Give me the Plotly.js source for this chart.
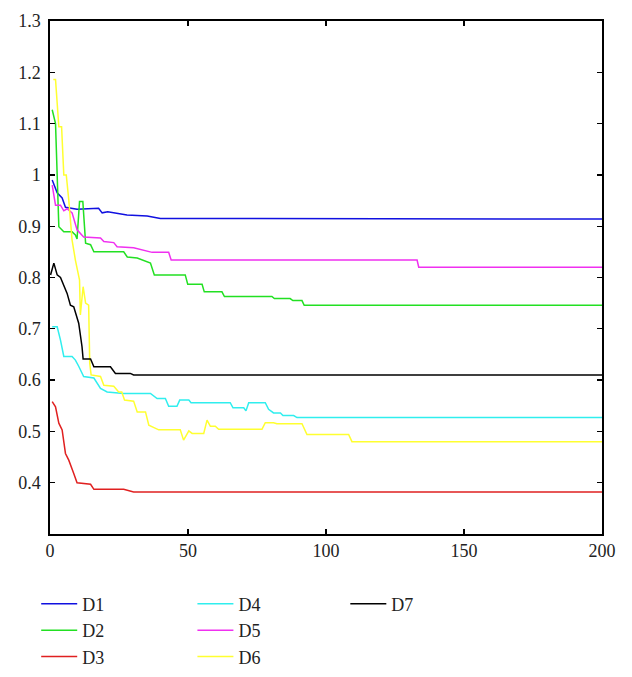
<!DOCTYPE html>
<html>
<head>
<meta charset="utf-8">
<script src="https://cdn.plot.ly/plotly-3.0.1.min.js"></script>
<style>
  html, body { margin: 0; padding: 0; background: #fff; }
  #chart { width: 632px; height: 677px; }
</style>
</head>
<body>
<div id="chart"></div>
<script>
// iteration values
const d1X = [0.8, 2.6, 4.4, 5.6, 9.8, 17.6, 18.9, 20.9, 27.9, 35.2, 40, 200];
const d1Y = [0.99, 0.965, 0.955, 0.937, 0.933, 0.935, 0.926, 0.928, 0.922, 0.92, 0.915, 0.914];

const d2X = [0.8, 2, 3.2, 5, 8, 9.2, 9.8, 10.7, 11.9, 12.9, 14.7, 15.9, 26.7, 28, 31.6, 36.4, 37.8, 49, 49.9, 55.1, 55.9, 62.3, 63.2, 80.4, 81.3, 87, 88, 91.3, 92.1, 200];
const d2Y = [1.127, 1.1, 0.899, 0.889, 0.889, 0.883, 0.875, 0.948, 0.948, 0.867, 0.864, 0.85, 0.85, 0.84, 0.838, 0.828, 0.805, 0.805, 0.787, 0.787, 0.772, 0.772, 0.763, 0.763, 0.759, 0.759, 0.755, 0.755, 0.746, 0.746];

const d3X = [0.8, 2, 3.2, 4.4, 5.6, 6.8, 8.6, 9.8, 14.7, 15.9, 26.7, 30.3, 200];
const d3Y = [0.558, 0.548, 0.516, 0.503, 0.457, 0.444, 0.418, 0.4, 0.397, 0.387, 0.387, 0.382, 0.382];

const d4X = [0.8, 2.6, 3.8, 5, 8, 9.2, 10.4, 12.2, 15.9, 18.3, 20.7, 26.7, 36.4, 38.8, 41.8, 43, 46, 47, 50.3, 51.1, 65.3, 66.3, 70.2, 71, 72, 78, 79.2, 81, 83.5, 84.4, 88.3, 89.5, 200];
const d4Y = [0.704, 0.704, 0.678, 0.646, 0.646, 0.639, 0.627, 0.607, 0.604, 0.584, 0.577, 0.574, 0.574, 0.564, 0.564, 0.549, 0.549, 0.561, 0.561, 0.556, 0.556, 0.546, 0.546, 0.54, 0.556, 0.556, 0.543, 0.536, 0.536, 0.531, 0.531, 0.527, 0.527];

const d5X = [0.8, 2, 3.8, 5, 6.2, 8, 9.8, 11, 12.2, 18.3, 19.5, 23.1, 24.3, 30.3, 32.6, 37, 43, 43.9, 133, 133.6, 200];
const d5Y = [0.98, 0.941, 0.941, 0.93, 0.934, 0.926, 0.893, 0.887, 0.879, 0.877, 0.87, 0.868, 0.86, 0.858, 0.855, 0.849, 0.849, 0.834, 0.834, 0.82, 0.82];

const d6X = [1.2, 2, 3.2, 4.2, 5, 5.9, 6.8, 8, 9.2, 10.7, 11, 12, 12.9, 14, 14.4, 14.9, 18.3, 19.5, 23.1, 24.9, 26, 27, 30.3, 31.6, 34.6, 35.8, 39.4, 47.2, 48.4, 50.3, 51.5, 55.7, 56.9, 58.1, 59.9, 61.1, 76.8, 78, 81, 82.2, 91.3, 93.1, 108.2, 109.4, 200];
const d6Y = [1.186, 1.186, 1.094, 1.094, 1.0, 1.0, 0.951, 0.873, 0.834, 0.795, 0.727, 0.782, 0.75, 0.746, 0.633, 0.61, 0.607, 0.59, 0.588, 0.577, 0.577, 0.561, 0.559, 0.538, 0.538, 0.512, 0.503, 0.503, 0.483, 0.501, 0.496, 0.496, 0.522, 0.51, 0.51, 0.504, 0.504, 0.517, 0.517, 0.515, 0.515, 0.494, 0.494, 0.48, 0.48];

const d7X = [0.2, 1.4, 2.6, 3.8, 6.2, 7.4, 8.6, 10.4, 11.6, 12, 14.7, 15.9, 21.9, 23.7, 29.1, 30.3, 200];
const d7Y = [0.805, 0.828, 0.805, 0.8, 0.769, 0.746, 0.743, 0.711, 0.665, 0.641, 0.641, 0.626, 0.626, 0.613, 0.613, 0.61, 0.61];

const seriesNames = ['D1', 'D2', 'D3', 'D4', 'D5', 'D6', 'D7'];
const seriesColors = ['#1010e0', '#22e022', '#e02020', '#30eeee', '#f030f0', '#ffff30', '#000000'];
const xTicks = [0, 50, 100, 150, 200];
const yTicks = [0.4, 0.5, 0.6, 0.7, 0.8, 0.9, 1.0, 1.1, 1.2, 1.3];
const yTickText = ['0.4', '0.5', '0.6', '0.7', '0.8', '0.9', '1', '1.1', '1.2', '1.3'];

const allX = [d1X, d2X, d3X, d4X, d5X, d6X, d7X];
const allY = [d1Y, d2Y, d3Y, d4Y, d5Y, d6Y, d7Y];
// legend columns: D1-D3, D4-D6, D7
const legendOf = ['legend', 'legend', 'legend', 'legend2', 'legend2', 'legend2', 'legend3'];

const serif = "'Liberation Serif', serif";

const traces = seriesNames.map((name, i) => ({
    x: allX[i],
    y: allY[i],
    name: name,
    type: 'scatter',
    mode: 'lines',
    line: { color: seriesColors[i], width: 1.5 },
    legend: legendOf[i],
    legendgroup: name
}));

const legendBase = {
    orientation: 'v',
    yref: 'container',
    yanchor: 'top',
    y: 0.135,
    xanchor: 'left',
    font: { family: serif, size: 18, color: '#222' },
    bgcolor: 'rgba(0,0,0,0)',
    borderwidth: 0,
    tracegroupgap: 0,
    itemwidth: 36
};

const axisBase = {
    ticks: 'inside',
    ticklen: 5,
    tickwidth: 1.3,
    tickcolor: '#000',
    tickfont: { family: serif, size: 18, color: '#222' },
    showline: true,
    linecolor: '#000',
    linewidth: 1.6,
    mirror: 'ticks',
    showgrid: false,
    zeroline: false
};

const layout = {
    width: 632,
    height: 677,
    margin: { l: 50, r: 30, t: 21, b: 143 },
    paper_bgcolor: '#fff',
    plot_bgcolor: '#fff',
    font: { family: serif, size: 18, color: '#222' },
    showlegend: true,
    xaxis: Object.assign({}, axisBase, { range: [0, 200], tickvals: xTicks }),
    yaxis: Object.assign({}, axisBase, { range: [0.3, 1.3], tickvals: yTicks, ticktext: yTickText, ticklabelstandoff: 4 }),
    legend: Object.assign({}, legendBase, { x: -0.025 }),
    legend2: Object.assign({}, legendBase, { x: 0.258 }),
    legend3: Object.assign({}, legendBase, { x: 0.535 })
};

Plotly.newPlot('chart', traces, layout, { displayModeBar: false, staticPlot: true });
</script>
</body>
</html>
